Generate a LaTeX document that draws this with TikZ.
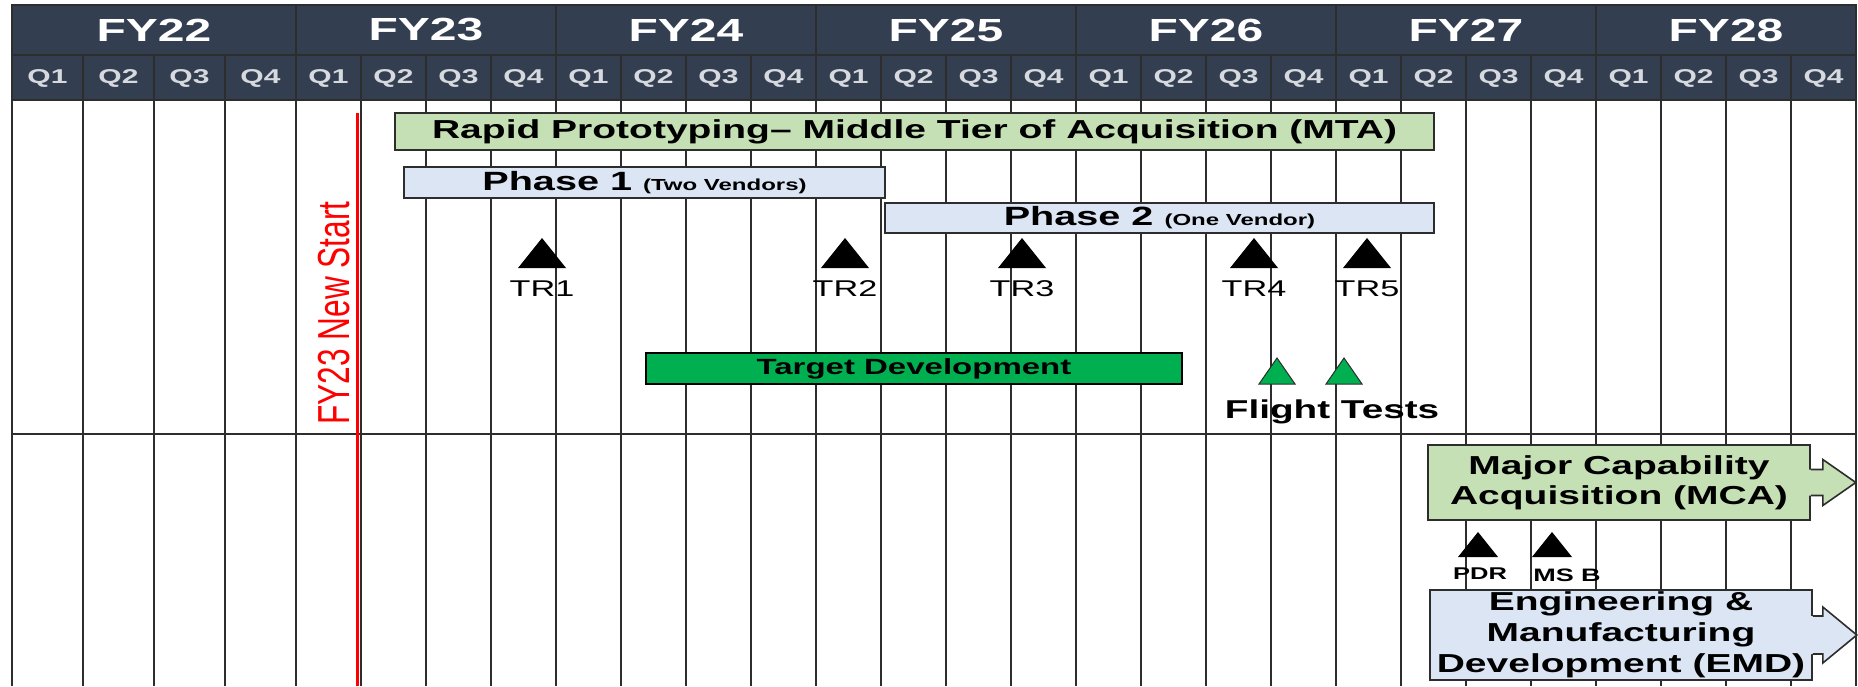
\documentclass[tikz,border=0pt]{standalone}
\usepackage{fontspec}
\setmainfont{Liberation Sans}[FakeStretch=1.5]
\newfontfamily\uprightSans{Liberation Sans}
\usetikzlibrary{fit}

\newcommand\leftEdge{12}
\newcommand\rightEdge{1856}
\newcommand\oldQuarter{71}
\newcommand\fyStart{296}
\newcommand\quarterWidth{65}
\newcommand\yearWidth{260}
\newcommand\headTop{5}
\newcommand\yearBottom{55}
\newcommand\quarterBottom{100}
\newcommand\splitRow{434}
\newcommand\chartBottom{686}
\newcommand\trTop{238}
\newcommand\trBase{268}
\newcommand\trHalf{24}
\newcommand\newStartX{357}

\definecolor{headNavy}{RGB}{51,63,80}
\definecolor{quarterGray}{RGB}{214,217,222}
\definecolor{mtaGreen}{RGB}{197,224,180}
\definecolor{phaseBlue}{RGB}{219,229,244}
\definecolor{targetGreen}{RGB}{0,176,80}
\definecolor{lineGray}{RGB}{45,45,45}

\tikzset{
  gridline/.style={draw=lineGray, line width=1pt},
  barbox/.style={draw=lineGray, line width=0.8pt, inner sep=0pt},
  yearlabel/.style={text=white, font=\bfseries\fontsize{16}{18}\selectfont},
  quarterlabel/.style={text=quarterGray, font=\bfseries\fontsize{10}{11}\selectfont},
  trlabel/.style={font=\fontsize{11.4}{13}\selectfont},
  smalllabel/.style={font=\bfseries\fontsize{9}{10}\selectfont},
  bartext/.style={font=\bfseries\fontsize{13}{15}\selectfont, align=center, inner sep=0pt},
}

\begin{document}
\begin{tikzpicture}[x=0.5pt, y=-0.5pt]
    \useasboundingbox (0,0) rectangle (1858,686);

    % HEADER
    \fill[headNavy] (\leftEdge,\headTop) rectangle (\rightEdge,\quarterBottom);
    \node[yearlabel] (fy22) at ({\leftEdge+2*\oldQuarter},30) {FY22};
    \foreach \yr [count=\i from 0] in {23,...,28}{
      \node[yearlabel] (fy\yr) at ({\fyStart+\yearWidth*\i+\yearWidth/2},30) {FY\yr};
    }
    \foreach \q in {1,...,4}{
      \node[quarterlabel] (q22-\q) at ({\leftEdge+\oldQuarter*(\q-0.5)},78) {Q\q};
    }
    \foreach \yr [count=\i from 0] in {23,...,28}{
      \foreach \q in {1,...,4}{
        \node[quarterlabel] (q\yr-\q) at ({\fyStart+\yearWidth*\i+\quarterWidth*(\q-0.5)},78) {Q\q};
      }
    }

    % GRID
    \draw[gridline] (\leftEdge,\chartBottom) -- (\leftEdge,\headTop) -- (\rightEdge,\headTop) -- (\rightEdge,\chartBottom);
    \draw[gridline] (\leftEdge,\yearBottom) -- (\rightEdge,\yearBottom);
    \draw[gridline] (\leftEdge,\quarterBottom) -- (\rightEdge,\quarterBottom);
    \draw[gridline] (\leftEdge,\splitRow) -- (\rightEdge,\splitRow);
    \foreach \q in {1,2,3}{
      \draw[gridline] ({\leftEdge+\oldQuarter*\q},\yearBottom) -- ({\leftEdge+\oldQuarter*\q},\chartBottom);
    }
    \foreach \i in {0,...,5}{
      \draw[gridline] ({\fyStart+\yearWidth*\i},\headTop) -- ({\fyStart+\yearWidth*\i},\chartBottom);
      \foreach \q in {1,2,3}{
        \draw[gridline] ({\fyStart+\yearWidth*\i+\quarterWidth*\q},\yearBottom) -- ({\fyStart+\yearWidth*\i+\quarterWidth*\q},\chartBottom);
      }
    }

    % NEW START LINE
    \draw[red, line width=1.5pt] (\newStartX,113) -- (\newStartX,\chartBottom);
    \node[red, rotate=90] (newstart) at (334,313) {\scalebox{1}[1.42]{\uprightSans\fontsize{15.8}{17}\selectfont FY23 New Start}};

    % RAPID PROTOTYPING (MTA)
    \node[barbox, fill=mtaGreen, fit={(395,113) (1434,150)}] (mta) {};
    \node[bartext] (mtaText) at (mta.center) {Rapid Prototyping– Middle Tier of Acquisition (MTA)};
    \node[barbox, fill=phaseBlue, fit={(404,167) (885,198)}] (phase1) {};
    \node[bartext, font=\bfseries\fontsize{13.2}{15}\selectfont] (phase1Text) at (phase1.center) {Phase 1 {\fontsize{8}{9}\selectfont (Two Vendors)}};
    \node[barbox, fill=phaseBlue, fit={(885,203) (1434,233)}] (phase2) {};
    \node[bartext, font=\bfseries\fontsize{13.2}{15}\selectfont] (phase2Text) at (phase2.center) {Phase 2 {\fontsize{8}{9}\selectfont (One Vendor)}};

    % TECHNICAL REVIEWS
    \foreach \trX/\trNum in {542/1,845/2,1022/3,1254/4,1367/5}{
      \fill[black] (\trX-\trHalf,\trBase) -- (\trX,\trTop) -- (\trX+\trHalf,\trBase) -- cycle;
      \node[trlabel] (tr\trNum) at (\trX,289) {TR\trNum};
    }

    % TARGET AND FLIGHT TESTS
    \node[barbox, draw=black, fill=targetGreen, fit={(646,353) (1182,384)}] (target) {};
    \node[bartext, font=\bfseries\fontsize{11}{12}\selectfont] (targetText) at (target.center) {Target Development};
    \foreach \ftX in {1277,1344}{
      \filldraw[fill=targetGreen, draw=lineGray, line width=0.5pt] (\ftX-18,384) -- (\ftX,358) -- (\ftX+18,384) -- cycle;
    }
    \node[font=\bfseries\fontsize{12.9}{14}\selectfont] (flight) at (1332,412) {Flight Tests};

    % MAJOR CAPABILITY ACQUISITION
    \node[barbox, fill=mtaGreen, fit={(1428,445) (1810,520)}] (mca) {};
    \node[bartext] (mcaText) at (mca.center) {Major Capability\\Acquisition (MCA)};
    \fill[mtaGreen] (mca.east) ++(-2,-13) -- ++(14,0) -- ++(0,-10) -- ++(33,23) -- ++(-33,23) -- ++(0,-10) -- ++(-14,0) -- cycle;
    \draw[lineGray, line width=0.8pt] (mca.east) ++(0,-13) -- ++(12,0) -- ++(0,-10) -- ++(33,23) -- ++(-33,23) -- ++(0,-10) -- ++(-12,0);

    \foreach \msX in {1478,1552}{
      \fill[black] (\msX-20,557) -- (\msX,532) -- (\msX+20,557) -- cycle;
    }
    \node[smalllabel, font=\bfseries\fontsize{8.5}{10}\selectfont] (pdr) at (1480,574) {PDR};
    \node[smalllabel] (msb) at (1567,575) {MS B};

    % ENGINEERING AND MANUFACTURING
    \node[barbox, fill=phaseBlue, fit={(1430,590) (1812,680)}] (emd) {};
    \node[bartext, font=\bfseries\fontsize{13}{15.5}\selectfont] (emdText) at (emd.center) {Engineering \&\\Manufacturing\\Development (EMD)};
    \fill[phaseBlue] (emd.east) ++(-2,-19) -- ++(12,0) -- ++(0,-9) -- ++(34,28) -- ++(-34,28) -- ++(0,-9) -- ++(-12,0) -- cycle;
    \draw[lineGray, line width=0.8pt] (emd.east) ++(0,-19) -- ++(10,0) -- ++(0,-9) -- ++(34,28) -- ++(-34,28) -- ++(0,-9) -- ++(-10,0);

\end{tikzpicture}
\end{document}
